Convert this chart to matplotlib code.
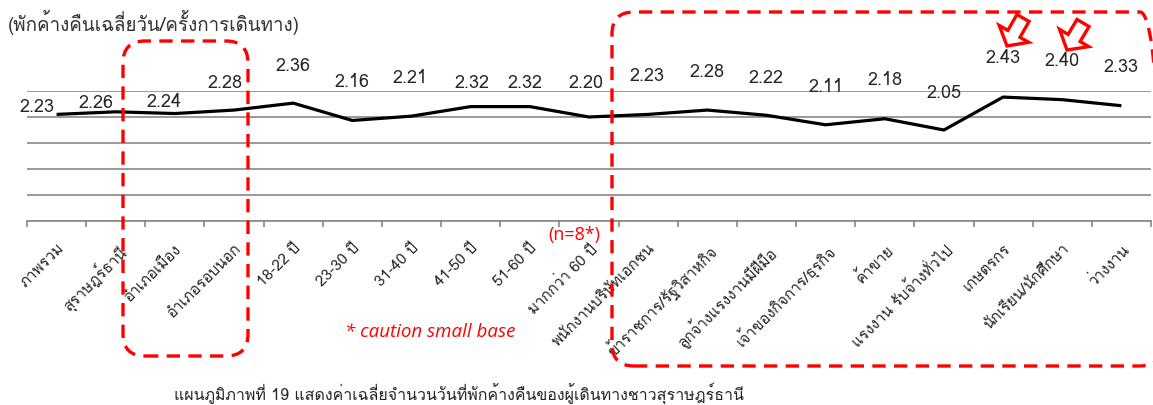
import matplotlib
matplotlib.use("Agg")
import matplotlib.pyplot as plt
from matplotlib import font_manager, ft2font
from matplotlib.patches import FancyBboxPatch, FancyArrow
import numpy as np

# average nights stayed per trip, by group
categories = ["ภาพรวม", "สุราษฎร์ธานี", "อำเภอเมือง", "อำเภอรอบนอก",
              "18-22 ปี", "23-30 ปี", "31-40 ปี", "41-50 ปี", "51-60 ปี",
              "มากกว่า 60 ปี", "พนักงานบริษัทเอกชน", "ข้าราชการ/รัฐวิสาหกิจ",
              "ลูกจ้างแรงงานมีฝีมือ", "เจ้าของกิจการ/ธุรกิจ", "ค้าขาย",
              "แรงงาน รับจ้างทั่วไป", "เกษตรกร", "นักเรียน/นักศึกษา", "ว่างงาน"]
nights = [2.23, 2.26, 2.24, 2.28, 2.36, 2.16, 2.21, 2.32, 2.32, 2.20,
          2.23, 2.28, 2.22, 2.11, 2.18, 2.05, 2.43, 2.40, 2.33]

# label nudges in pixels (dx, dy above the point)
label_dx = [-20, -20, -11, -9, 0, 0, -2, 1, -5, -3, -1, 0, 0, 0, 0, 0, 0, 0, 0]
label_dy = [8, 10, 13, 28, 38, 39, 39, 25, 25, 35, 39, 39, 38, 39, 40, 38, 40, 40, 40]

title = "(พักค้างคืนเฉลี่ยวัน/ครั้งการเดินทาง)"
caption = "แผนภูมิภาพที่ 19 แสดงค่าเฉลี่ยจำนวนวันที่พักค้างคืนของผู้เดินทางชาวสุราษฎร์ธานี"


def find_thai_font():
    for f in font_manager.fontManager.ttflist:
        try:
            cmap = ft2font.FT2Font(f.fname).get_charmap()
        except Exception:
            continue
        if 0x0E01 in cmap:
            return f.name
    return None


thai = find_thai_font()
families = ([thai] if thai else []) + ["Liberation Sans", "DejaVu Sans"]
plt.rcParams["font.family"] = families

W, H = 1153, 406
fig = plt.figure(figsize=(W / 100, H / 100), dpi=100)
ax = fig.add_axes([27 / W, 1 - 222 / H, (1151 - 27) / W, (222 - 92) / H])

x = np.arange(len(nights))
ax.plot(x, nights, color="black", lw=2.3, solid_capstyle="butt", zorder=3)

for i, v in enumerate(nights):
    ax.annotate(f"{v:.2f}", (i, v), xytext=(label_dx[i] * 0.72, label_dy[i] * 0.72),
                textcoords="offset points", ha="center", va="center",
                fontsize=13, color="#262626", zorder=4)

grid = "#888888"
ax.set_xlim(-0.5, len(nights) - 0.5)
ax.set_ylim(1.0, 2.5)
ax.set_yticks(np.arange(1.0, 2.51, 0.3))
ax.yaxis.grid(True, color=grid, lw=1.2)
ax.tick_params(axis="y", left=False, labelleft=False)
ax.set_xticks(np.arange(-0.5, len(nights)), labels=[""] * (len(nights) + 1))
ax.tick_params(axis="x", which="major", direction="out", length=4, width=1.2, color=grid)
ax.set_xticks(x, minor=True)
ax.set_xticklabels(categories, minor=True, rotation=45, ha="right",
                   rotation_mode="anchor", fontsize=11, color="#262626")
ax.tick_params(axis="x", which="minor", length=0, pad=14)
for side in ["left", "right", "top"]:
    ax.spines[side].set_visible(False)
ax.spines["bottom"].set_color(grid)
ax.spines["bottom"].set_linewidth(1.2)
ax.set_axisbelow(True)

# overlay in pixel units for the callouts
ov = fig.add_axes([0, 0, 1, 1], zorder=5)
ov.set_xlim(0, W)
ov.set_ylim(0, H)
ov.axis("off")
ov.patch.set_alpha(0)


def box(x0, y0, x1, y1):
    p = FancyBboxPatch((x0, H - y1), x1 - x0, y1 - y0,
                       boxstyle="round,pad=0,rounding_size=22",
                       fill=False, ec="#ff0000", lw=2.4, ls=(0, (4, 2.5)))
    ov.add_patch(p)


box(123, 42, 248, 357)
box(612, 13, 1162, 367)


def arrow(tail, tip):
    dx, dy = tip[0] - tail[0], -(tip[1] - tail[1])
    ov.add_patch(FancyArrow(tail[0], H - tail[1], dx, dy, width=14,
                            head_width=34, head_length=14,
                            length_includes_head=True, fill=False,
                            ec="#ff0000", lw=2.4, joinstyle="miter"))


arrow((1023, 19), (1007, 47))
arrow((1083, 24), (1067, 51))

ov.text(8, H - 22, title, fontsize=13.5, color="#333333", va="center", ha="left")
ov.text(574, H - 235, "(n=8*)", fontsize=13, color="#ff0000", va="center", ha="center",
        family=["Open Sans", "DejaVu Sans"])
ov.text(430, H - 332, "* caution small base", fontsize=13.5, color="#ff0000",
        va="center", ha="center", style="italic", family=["Open Sans", "DejaVu Sans"])
ov.text(174, H - 393, caption, fontsize=11.5, color="#262626", va="center", ha="left")

fig.savefig("out.png", dpi=100)
